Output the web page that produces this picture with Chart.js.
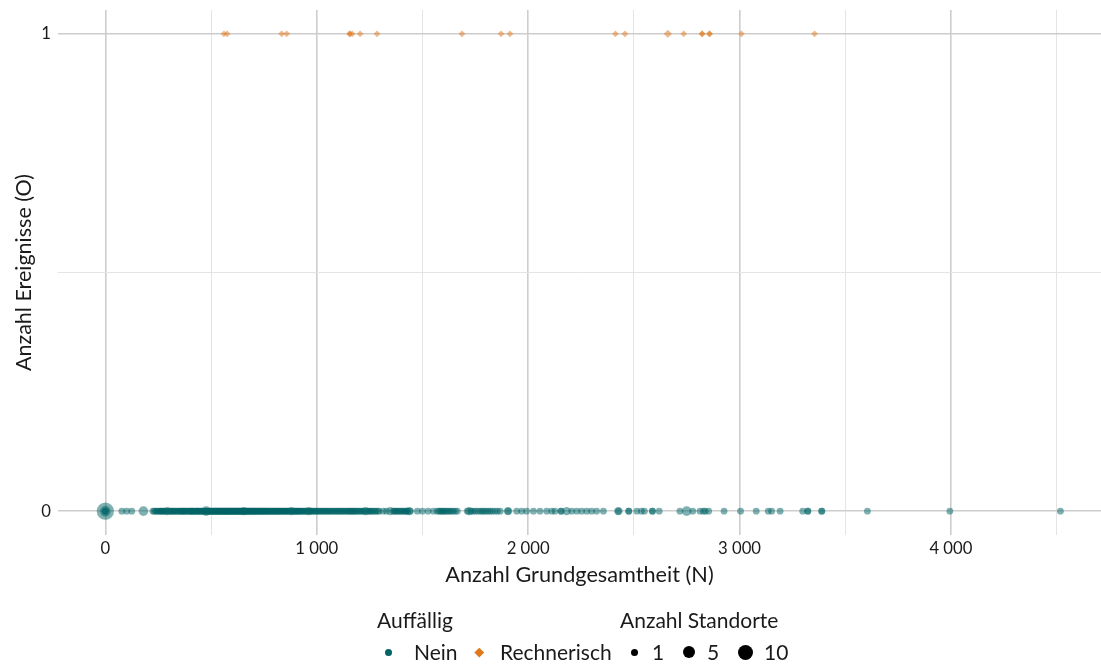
<!DOCTYPE html>
<html>
<head>
<meta charset="utf-8">
<script src="https://cdn.jsdelivr.net/npm/chart.js@4"></script>
<style>
  html, body { margin: 0; padding: 0; background: #fff; }
  #wrap { position: relative; width: 1101px; height: 666px; font-family: Lato, sans-serif; color: #1a1a1a; }
  canvas { position: absolute; left: 0; top: 0; }
  .lg { position: absolute; font-size: 21px; line-height: 24px; white-space: nowrap; }
  .dot { position: absolute; border-radius: 50%; }
  .dia { position: absolute; transform: rotate(45deg); }
</style>
</head>
<body>
<div id="wrap">
  <canvas id="c" width="1101" height="666"></canvas>
  <div class="lg" style="left:377px; top:608px;">Auffällig</div>
  <div class="lg" style="left:620px; top:608px;">Anzahl Standorte</div>
  <div class="dot" style="left:384.5px; top:648.5px; width:7px; height:7px; background:#006466;"></div>
  <div class="lg" style="left:414px; top:640px;">Nein</div>
  <div class="dia" style="left:475.5px; top:648.5px; width:6.5px; height:6.5px; background:#E0781C;"></div>
  <div class="lg" style="left:500px; top:640px;">Rechnerisch</div>
  <div class="dot" style="left:630.5px; top:648.5px; width:7px; height:7px; background:#000;"></div>
  <div class="lg" style="left:652px; top:640px;">1</div>
  <div class="dot" style="left:683px; top:646px; width:12px; height:12px; background:#000;"></div>
  <div class="lg" style="left:707px; top:640px;">5</div>
  <div class="dot" style="left:737.5px; top:644.5px; width:15px; height:15px; background:#000;"></div>
  <div class="lg" style="left:764px; top:640px;">10</div>
</div>
<script>
// ---- Data ----
// Auffällig = Nein (O = 0): Grundgesamtheit N and Anzahl Standorte
const neinN = [
  0, 0, 0, 0, 78, 101, 125, 180,
  225, 231, 238, 244, 250, 256, 262, 266, 270, 276, 281, 287, 293, 300, 306, 312, 316, 320, 326, 331, 336,
  340, 346, 352, 356, 360, 364, 368, 372, 377, 381, 385, 390, 396, 400, 404, 407, 410, 414, 418, 422,
  427, 431, 435, 438, 441, 446, 450, 454, 458, 462, 466, 470, 474, 477, 480, 483, 487, 490, 494, 497,
  500, 503, 507, 510, 513, 516, 519, 521, 525, 528, 531, 534, 537, 540, 543, 546, 549, 552, 555, 558,
  561, 563, 566, 569, 572, 575, 578, 580, 583, 586, 589, 592, 595, 598, 601, 604, 607, 610, 613, 616,
  619, 622, 625, 628, 631, 634, 638, 641, 644, 647, 650, 652, 655, 658, 662, 665, 668, 671, 675, 678,
  681, 685, 688, 692, 695, 698, 702, 705, 708, 712, 715, 719, 722, 726, 729, 733, 736, 740, 744, 747,
  751, 755, 758, 762, 766, 770, 774, 778, 782, 786, 790, 794, 798, 802, 806, 810, 814, 818, 822, 826,
  830, 835, 839, 843, 847, 852, 856, 860, 865, 870, 875, 880, 885, 890, 894, 898, 903, 907, 911, 915,
  920, 925, 930, 935, 940, 946, 951, 957, 962, 968, 973, 978, 984, 990, 996, 1002, 1008, 1014, 1020,
  1026, 1032, 1038, 1044, 1050, 1056, 1062, 1068, 1075, 1081, 1088, 1094, 1100, 1106, 1113, 1119, 1125,
  1131, 1138, 1144, 1150, 1156, 1162, 1167, 1172, 1178, 1184, 1190, 1197, 1203, 1210, 1217, 1224, 1231,
  1238, 1245, 1252, 1258, 1265, 1272, 1280, 1288, 1295,
  1314, 1330, 1348, 1362, 1367, 1372, 1380, 1386, 1392, 1399, 1405, 1412, 1418, 1424, 1430, 1437, 1443,
  1476, 1500, 1527, 1552, 1570, 1578, 1585, 1592, 1598, 1605, 1612, 1620, 1628, 1636, 1645, 1655, 1665,
  1712, 1721, 1730, 1740, 1750, 1762, 1773, 1782, 1790, 1800, 1810, 1820, 1830, 1843, 1855, 1868,
  1905, 1905, 1946, 1970, 1993, 2025, 2056, 2088, 2112, 2127, 2156, 2156, 2182, 2206, 2230, 2253, 2277,
  2300, 2324, 2356, 2427, 2427, 2476, 2476, 2514, 2536, 2550, 2588, 2588, 2620,
  2718, 2750, 2779, 2813, 2829, 2838, 2854, 2927, 3005, 3079, 3136, 3152, 3192, 3299, 3323, 3323,
  3389, 3389, 3605, 3995, 4518
];
// Anzahl Standorte per point (1 unless listed as larger)
const neinLarge = {0: 14, 1: 4, 7: 3, 20: 2, 62: 3, 121: 2, 180: 2, 197: 2, 241: 2, 253: 2,
  266: 2, 286: 2, 302: 2, 313: 2, 322: 2, 332: 3};
const neinSize = neinN.map((_, i) => neinLarge[i] || 1);

// Auffällig = Rechnerisch (O = 1)
const rechN = [561, 576, 834, 858, 1156, 1156, 1168, 1205, 1285, 1687, 1872, 1914, 2413, 2458, 2661,
  2736, 2823, 2823, 2858, 2858, 3009, 3355];
const rechSize = [1, 1, 1, 1, 1, 1, 1, 1, 1, 1, 1, 1, 1, 1, 2, 1, 1, 1, 1, 1, 1, 1];

const xTickValues = [0, 500, 1000, 1500, 2000, 2500, 3000, 3500, 4000, 4500];
const yTickValues = [0, 0.5, 1];
const yTickLabels = {0: '0', 1: '1'};

// ---- Helpers ----
const sizeToRadius = n => 3.4 + (Math.sqrt(n) - 1) / (Math.sqrt(10) - 1) * 4.1;
const fmt = v => String(v).replace(/\B(?=(\d{3})+(?!\d))/g, ' ');
const MAJOR = '#cdcdcd', MINOR = '#e4e4e4';
const FONT = 'Lato';

const neinData = neinN.map((n, i) => ({x: n, y: 0, s: neinSize[i]}));
const rechData = rechN.map((n, i) => ({x: n, y: 1, s: rechSize[i]}));

const zeroPad = s => { s.paddingTop = 0; s.paddingBottom = 0; s.paddingLeft = 0; s.paddingRight = 0; };

new Chart(document.getElementById('c'), {
  type: 'scatter',
  data: {
    datasets: [
      {
        label: 'Nein', data: neinData, pointStyle: 'circle',
        backgroundColor: 'rgba(0,100,102,0.5)', borderWidth: 0,
        pointRadius: ctx => sizeToRadius(ctx.raw ? ctx.raw.s : 1)
      },
      {
        label: 'Rechnerisch', data: rechData, pointStyle: 'rectRot',
        backgroundColor: 'rgba(224,120,28,0.5)', borderWidth: 0,
        pointRadius: ctx => 1.0 * sizeToRadius(ctx.raw ? ctx.raw.s : 1)
      }
    ]
  },
  options: {
    responsive: false, animation: false,
    layout: { autoPadding: false, padding: { top: 10, right: 0, bottom: 78, left: 0 } },
    plugins: { legend: { display: false }, tooltip: { enabled: false } },
    scales: {
      x: {
        type: 'linear', min: -224, max: 4710,
        afterBuildTicks: s => { s.ticks = xTickValues.map(v => ({value: v})); },
        afterFit: s => { s.height = 53; zeroPad(s); },
        grid: { drawTicks: false, color: c => (c.tick && c.tick.value % 1000 === 0) ? MAJOR : MINOR,
                lineWidth: c => (c.tick && c.tick.value % 1000 === 0) ? 1.6 : 1 },
        border: { display: false },
        ticks: { padding: 4, color: '#1a1a1a', font: { family: FONT, size: 16.7 },
                 autoSkip: false, maxRotation: 0,
                 callback: v => (v % 1000 === 0) ? fmt(v) : '' },
        title: { display: true, text: 'Anzahl Grundgesamtheit (N)', color: '#1a1a1a',
                 font: { family: FONT, size: 21.7 }, padding: { top: 0, bottom: 0 } }
      },
      y: {
        type: 'linear', min: -0.05, max: 1.05,
        afterBuildTicks: s => { s.ticks = yTickValues.map(v => ({value: v})); },
        afterFit: s => { s.width = 58; zeroPad(s); },
        grid: { drawTicks: false, color: c => (c.tick && c.tick.value === 0.5) ? MINOR : MAJOR,
                lineWidth: c => (c.tick && c.tick.value === 0.5) ? 1 : 1.6 },
        border: { display: false },
        ticks: { padding: 7, color: '#1a1a1a', font: { family: FONT, size: 16.7 },
                 callback: v => (yTickLabels[v] !== undefined ? yTickLabels[v] : '') },
        title: { display: true, text: 'Anzahl Ereignisse (O)', color: '#1a1a1a',
                 font: { family: FONT, size: 21.5 }, padding: { top: 11, bottom: 0 } }
      }
    }
  }
});
</script>
</body>
</html>
